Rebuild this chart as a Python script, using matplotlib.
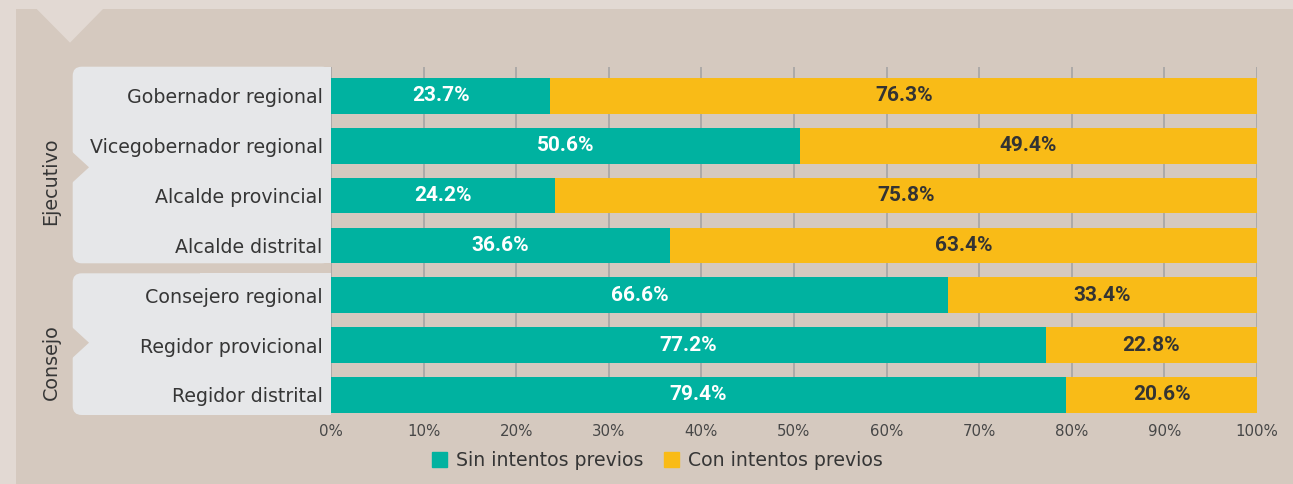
import matplotlib.pyplot as plt
import numpy as np
from matplotlib.patches import Rectangle, Polygon, FancyBboxPatch, Patch

# Data
categories = ["Gobernador regional", "Vicegobernador regional", "Alcalde provincial",
              "Alcalde distrital", "Consejero regional", "Regidor provicional",
              "Regidor distrital"]
sin_previos = [23.7, 50.6, 24.2, 36.6, 66.6, 77.2, 79.4]
con_previos = [76.3, 49.4, 75.8, 63.4, 33.4, 22.8, 20.6]
groups = ["Ejecutivo", "Consejo"]
tick_values = [0, 10, 20, 30, 40, 50, 60, 70, 80, 90, 100]
tick_labels = [f"{t}%" for t in tick_values]
legend_labels = ["Sin intentos previos", "Con intentos previos"]

# Colours
FRAME = "#e2d9d3"
TAN = "#d5c9bf"
PANEL = "#e6e7e9"
TEAL = "#00b2a0"
YELLOW = "#f9bb17"
GRID = "#a9a7a6"
TEXT = "#363636"

plt.rcParams['font.family'] = ['DejaVu Sans']

W, H = 1293, 484
fig = plt.figure(figsize=(W / 100, H / 100), dpi=100)
fig.patch.set_facecolor(FRAME)

# background layer in pixel coordinates
bg = fig.add_axes([0, 0, 1, 1])
bg.set_xlim(0, W)
bg.set_ylim(H, 0)
bg.axis('off')
bg.add_patch(Rectangle((16, 9), W - 16, H - 9, color=TAN, lw=0))
bg.add_patch(Polygon([(36.7, 9), (103, 9), (70, 42.7)], color=FRAME, lw=0))

# group panels: (top, bottom, notch y, label y)
panels = [(66.7, 263.3, 167.3, 181), (273.3, 415, 342.7, 362)]
for name, (top, bottom, notch, label_y) in zip(groups, panels):
    bg.add_patch(FancyBboxPatch((72.7, top), 331 - 72.7, bottom - top,
                                boxstyle="round,pad=0,rounding_size=9",
                                fc=PANEL, ec="none"))
    bg.add_patch(Rectangle((200, top), 131, bottom - top, fc=PANEL, ec="none"))
    bg.add_patch(Polygon([(71, notch - 16.5), (89, notch), (71, notch + 16.5)],
                         fc=TAN, ec="none"))
    bg.text(51, label_y, name, rotation=90, ha='center', va='center',
            fontsize=13.8, color=TEXT)

# main chart
ax = fig.add_axes([331 / W, 1 - 412.7 / H, (1257 - 331) / W, (412.7 - 67) / H])
ax.patch.set_alpha(0)
y = np.arange(len(categories))
ax.barh(y, sin_previos, height=0.717, color=TEAL, zorder=2)
ax.barh(y, con_previos, left=sin_previos, height=0.717, color=YELLOW, zorder=2)

for i in range(len(categories)):
    s, c = sin_previos[i], con_previos[i]
    ax.text(s / 2, i, f"{s}%", ha='center', va='center', color='white',
            fontsize=15, fontweight='bold', family=['Roboto', 'DejaVu Sans'], zorder=3)
    ax.text(s + c / 2, i, f"{c}%", ha='center', va='center', color="#333333",
            fontsize=15, fontweight='bold', family=['Roboto', 'DejaVu Sans'], zorder=3)

ax.set_xlim(0, 100)
ax.set_ylim(len(categories) - 1 + 0.358, -0.58)
ax.set_xticks(tick_values)
ax.set_xticklabels(tick_labels, fontsize=10.8, color="#474747")
ax.set_yticks(y)
ax.set_yticklabels(categories, fontsize=13.7, color=TEXT)
ax.tick_params(axis='both', length=0)
ax.tick_params(axis='x', pad=8)
ax.tick_params(axis='y', pad=6)
ax.xaxis.grid(True, color=GRID, lw=1.3, zorder=1)
ax.set_axisbelow(True)
for sp in ax.spines.values():
    sp.set_visible(False)

handles = [Patch(color=TEAL), Patch(color=YELLOW)]
fig.legend(handles, legend_labels, loc='center', bbox_to_anchor=(657 / W, 1 - 460.5 / H),
           ncol=2, frameon=False, fontsize=13.6, handlelength=0.82, handleheight=0.82,
           handletextpad=0.45, columnspacing=1.1, labelcolor=TEXT)

fig.savefig("out.png", dpi=100, facecolor=FRAME)
